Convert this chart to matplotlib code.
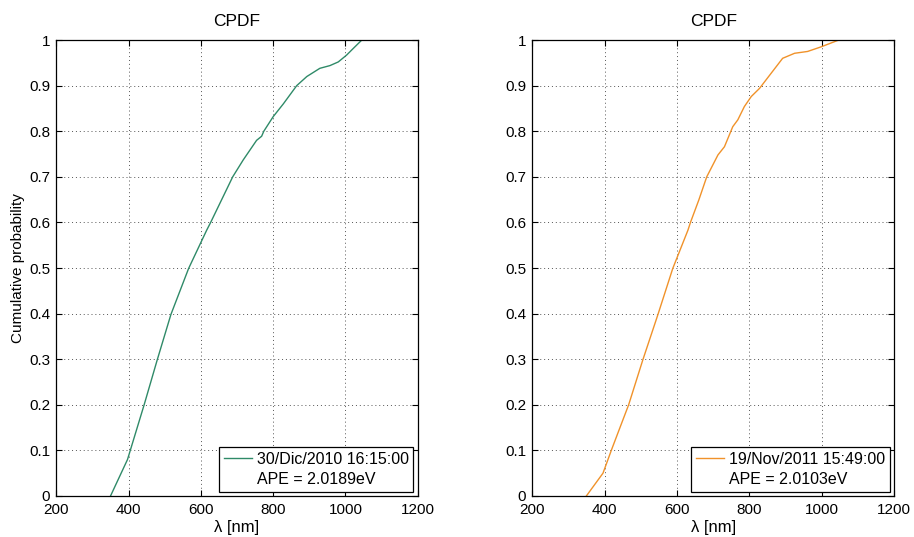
import matplotlib
matplotlib.use("Agg")
import matplotlib.pyplot as plt
from matplotlib.lines import Line2D

plt.rcParams['font.family'] = ['Liberation Sans', 'DejaVu Sans']

# Left series (30/Dic/2010)
wl_a = [350, 397, 443, 479, 517, 566, 616, 627, 688, 717, 754, 768, 774, 800, 828,
        865, 893, 929, 957, 980, 1003, 1022, 1045]
cp_a = [0.0, 0.08, 0.2, 0.298, 0.398, 0.499, 0.583, 0.6, 0.7, 0.737, 0.78, 0.789, 0.8,
        0.832, 0.86, 0.9, 0.92, 0.938, 0.944, 0.952, 0.967, 0.982, 1.0]

# Right series (19/Nov/2011)
wl_b = [349, 395, 418, 441, 466, 505, 547, 588, 630, 637, 660, 682, 713, 731, 754, 768,
        786, 805, 828, 860, 892, 925, 961, 998, 1047]
cp_b = [0.0, 0.05, 0.1, 0.148, 0.2, 0.298, 0.398, 0.499, 0.583, 0.6, 0.649, 0.7, 0.748,
        0.766, 0.81, 0.825, 0.854, 0.876, 0.894, 0.927, 0.96, 0.971, 0.975, 0.985, 1.0]

labels_a = ["30/Dic/2010 16:15:00", "APE = 2.0189eV"]
labels_b = ["19/Nov/2011 15:49:00", "APE = 2.0103eV"]
xticks = [200, 400, 600, 800, 1000, 1200]
yticks = [0, 0.1, 0.2, 0.3, 0.4, 0.5, 0.6, 0.7, 0.8, 0.9, 1]
ytick_labels = ["0", "0.1", "0.2", "0.3", "0.4", "0.5", "0.6", "0.7", "0.8", "0.9", "1"]

fig = plt.figure(figsize=(9.14, 5.37), dpi=100)
ax1 = fig.add_axes([0.0616, 0.0764, 0.3955, 0.849])
ax2 = fig.add_axes([0.5826, 0.0764, 0.3955, 0.849])

for ax, wl, cp, col, labs, ylab in [
        (ax1, wl_a, cp_a, '#2f8a68', labels_a, True),
        (ax2, wl_b, cp_b, '#f0922a', labels_b, False)]:
    ax.plot(wl, cp, color=col, lw=1.0)
    ax.set_xlim(200, 1200)
    ax.set_ylim(0, 1)
    ax.set_xticks(xticks)
    ax.set_yticks(yticks)
    ax.set_yticklabels(ytick_labels)
    ax.tick_params(direction='in', top=True, right=True, labelsize=11, length=4,
                   width=0.8)
    ax.tick_params(axis='x', pad=5)
    ax.tick_params(axis='y', pad=4.5)
    ax.grid(True, linestyle=(0, (1, 3)), color='#555555', lw=0.7)
    for s in ax.spines.values():
        s.set_linewidth(0.9)
    ax.set_title("CPDF", fontsize=12.5, pad=10)
    ax.set_xlabel("λ [nm]", fontsize=12, labelpad=2.5)
    if ylab:
        ax.set_ylabel("Cumulative probability", fontsize=11)
        ax.yaxis.set_label_coords(-0.086, 0.5)
    h1 = Line2D([], [], color=col, lw=1.0)
    h2 = Line2D([], [], color='none', lw=0)
    leg = ax.legend([h1, h2], labs, loc='lower right', fontsize=11.5, fancybox=False,
                    edgecolor='black', framealpha=1, borderaxespad=0.28,
                    handlelength=1.75, handletextpad=0.3, labelspacing=0.3,
                    borderpad=0.3)
    leg.get_frame().set_linewidth(0.9)

fig.savefig("out.png", dpi=100)
